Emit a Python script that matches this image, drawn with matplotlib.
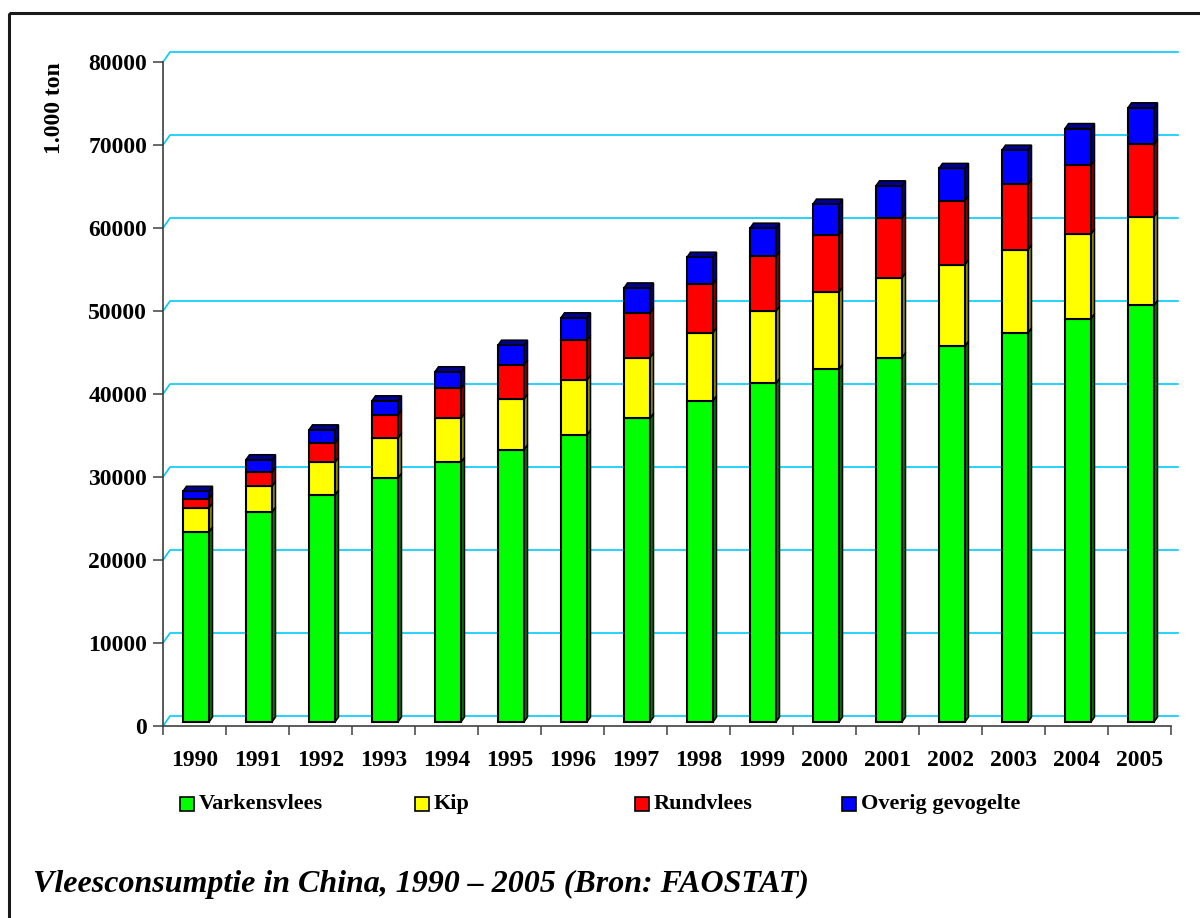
import matplotlib
matplotlib.use("Agg")
import matplotlib.pyplot as plt
from matplotlib.patches import Polygon, Rectangle
import numpy as np

years = [str(y) for y in range(1990, 2006)]
varkensvlees = [22900, 25300, 27350, 29400, 31300, 32800, 34600, 36600,
                38700, 40800, 42500, 43900, 45300, 46900, 48600, 50200]
kip = [2900, 3100, 3950, 4800, 5300, 6100, 6600, 7300,
       8200, 8700, 9300, 9600, 9800, 10000, 10200, 10700]
rundvlees = [1100, 1700, 2300, 2800, 3600, 4100, 4800, 5400,
             5900, 6600, 6900, 7200, 7700, 7900, 8300, 8700]
overig = [900, 1500, 1600, 1700, 2000, 2400, 2700, 3000,
          3200, 3400, 3700, 3900, 3900, 4100, 4400, 4400]

series = [
    ("Varkensvlees", varkensvlees, "#00ff00", "#007a00"),
    ("Kip", kip, "#ffff00", "#8a8a00"),
    ("Rundvlees", rundvlees, "#ff0000", "#8a0000"),
    ("Overig gevogelte", overig, "#0000ff", "#00008a"),
]
yticks = list(range(0, 80001, 10000))

plt.rcParams["font.family"] = ["Liberation Serif", "DejaVu Serif"]
plt.rcParams["font.weight"] = "bold"

W, H = 1200, 918
fig = plt.figure(figsize=(W / 100, H / 100), dpi=100)
fig.patch.set_facecolor("white")

# plot area in pixels
x0, x1, ytop, ybot = 163, 1171, 62, 726
ax = fig.add_axes([x0 / W, 1 - ybot / H, (x1 - x0) / W, (ybot - ytop) / H])
n = len(years)
ax.set_xlim(-0.5, n - 0.5)
ax.set_ylim(0, 80000)
ax.set_facecolor("none")

ppx = (x1 - x0) / n          # pixels per category
ppy = (ybot - ytop) / 80000  # pixels per value unit


def dx(p):
    return p / ppx


def dy(p):
    return p / ppy


grid_c = "#00ccff"
axis_c = "#404040"

# back-wall gridlines with a small perspective step
gx, gy = dx(7), dy(10)
for v in yticks:
    ax.plot([-0.5, -0.5 + gx, n - 0.5 + gx], [v, v + gy, v + gy],
            color=grid_c, lw=1.2, clip_on=False, zorder=1)

# stacked 3D-looking columns
bw = dx(26)
ox, oy = dx(1.5), dy(4)
sdx, sdy = dx(3.5), dy(5)
bottoms = np.zeros(n)
for k, (name, vals, face, side) in enumerate(series):
    vals = np.array(vals, dtype=float)
    for i in range(n):
        left = i - bw / 2 + ox
        right = left + bw
        b = bottoms[i] + oy
        t = b + vals[i]
        ax.add_patch(Rectangle((left, b), bw, vals[i], facecolor=face,
                               edgecolor="black", lw=1.5, zorder=3))
        ax.add_patch(Polygon([(right, b), (right + sdx, b + sdy),
                              (right + sdx, t + sdy), (right, t)],
                             closed=True, facecolor=side, edgecolor="black",
                             lw=1.1, zorder=2.9))
        if k == len(series) - 1:
            ax.add_patch(Polygon([(left, t), (left + sdx, t + sdy),
                                  (right + sdx, t + sdy), (right, t)],
                                 closed=True, facecolor=side,
                                 edgecolor="black", lw=1.1, zorder=3.1))
    bottoms += vals

for s in ("top", "right"):
    ax.spines[s].set_visible(False)
for s in ("left", "bottom"):
    ax.spines[s].set_color(axis_c)
    ax.spines[s].set_linewidth(1.2)

ax.set_yticks(yticks)
ax.set_yticklabels([str(v) for v in yticks], fontsize=17, fontweight="bold")
ax.tick_params(axis="y", length=7.5, width=1.1, color=axis_c, pad=4)

ax.set_xticks(range(n))
ax.set_xticklabels(years, fontsize=17, fontweight="bold")
ax.set_xticks(np.arange(-0.5, n, 1.0), minor=True)
ax.tick_params(axis="x", which="major", length=0, pad=17)
ax.tick_params(axis="x", which="minor", length=6.5, width=1.1, color=axis_c)

# overlay in pixel coordinates for frame, legend and caption
ov = fig.add_axes([0, 0, 1, 1], zorder=-1)
ov.set_xlim(0, W)
ov.set_ylim(H, 0)
ov.axis("off")
ov.add_patch(Rectangle((9, 13), W + 20, H + 20, fill=False,
                       edgecolor="#1a1a1a", lw=2.2))

fig.text(55 / W, 1 - 108 / H, "1.000 ton", rotation=90, ha="center",
         va="center", fontsize=17, fontweight="bold")

legend_x = [180, 415, 635, 842]
ov2 = fig.add_axes([0, 0, 1, 1])
ov2.set_xlim(0, W)
ov2.set_ylim(H, 0)
ov2.axis("off")
for (name, vals, face, side), lx in zip(series, legend_x):
    ov2.add_patch(Rectangle((lx, 797), 14, 14, facecolor=face,
                            edgecolor="black", lw=1.2))
    ov2.text(lx + 19, 804, name, ha="left", va="center", fontsize=16,
             fontweight="bold")

ov2.text(33, 884, "Vleesconsumptie in China, 1990 \u2013 2005 (Bron: FAOSTAT)",
         ha="left", va="center", fontsize=23, fontweight="bold",
         fontstyle="italic")

fig.savefig("out.png", dpi=100)
